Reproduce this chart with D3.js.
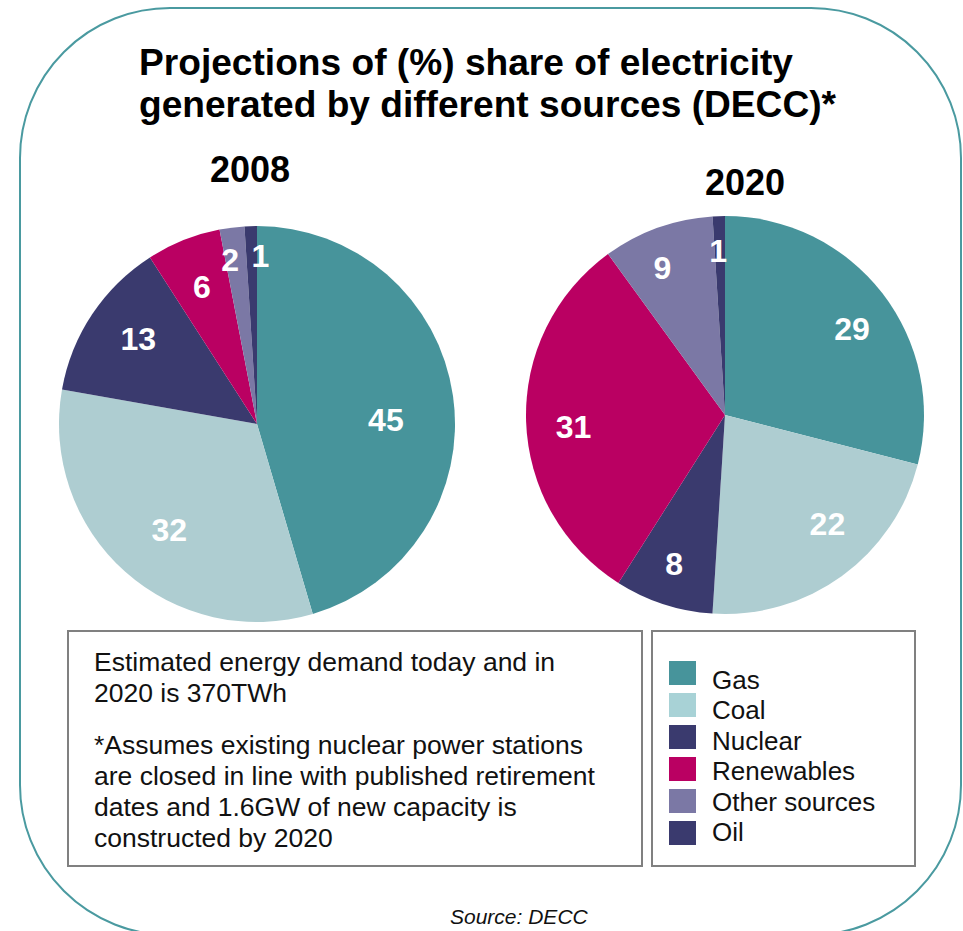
<!DOCTYPE html>
<html>
<head>
<meta charset="utf-8">
<script src="https://cdn.jsdelivr.net/npm/d3@7"></script>
<style>
  html, body { margin: 0; padding: 0; background: #ffffff; }
  svg { display: block; font-family: "Liberation Sans", Arial, Helvetica, sans-serif; }
</style>
</head>
<body>
<svg id="chart" width="963" height="931"></svg>
<script>
// ---------- data ----------
const titleLines = ["Projections of (%) share of electricity", "generated by different sources (DECC)*"];
const sources = ["Gas", "Coal", "Nuclear", "Renewables", "Other sources", "Oil"];
const years = ["2008", "2020"];
const share2008 = [45, 32, 13, 6, 2, 1];
const share2020 = [29, 22, 8, 31, 9, 1];
const noteLines1 = ["Estimated energy demand today and in", "2020 is 370TWh"];
const noteLines2 = ["*Assumes existing nuclear power stations", "are closed in line with published retirement", "dates and 1.6GW of new capacity is", "constructed by 2020"];
const sourceNote = "Source: DECC";

// ---------- styles / layout ----------
const sourceColors = ["#47949b", "#aecdd1", "#3a3a6e", "#ba0062", "#7b78a5", "#3a3a6e"];
const legendColors = ["#47949b", "#a8d2d6", "#3a3a6e", "#ba0062", "#7b78a5", "#3a3a6e"];
const pieLayout = [
  { cx: 257, cy: 424, r: 198, yearX: 250, yearY: 182,
    labelR: [129, 137, 146, 148, 167, 169], labelDA: [6, -2, 2, 0, -2, 3] },
  { cx: 725, cy: 415, r: 199, yearX: 745, yearY: 195,
    labelR: [154, 149, 157, 152, 160, 165], labelDA: [3.4, -7.4, 0.9, -2.7, -3.2, -0.6] }
];

const svg = d3.select("#chart");

// outer rounded frame
svg.append("rect")
  .attr("x", 20).attr("y", 8).attr("width", 941).attr("height", 927)
  .attr("rx", 150).attr("ry", 150)
  .attr("fill", "none").attr("stroke", "#4a9aa0").attr("stroke-width", 2);

// title
svg.append("g").selectAll("text").data(titleLines).join("text")
  .attr("x", 139).attr("y", (d, i) => 75 + i * 42)
  .attr("font-size", 37).attr("font-weight", "bold").attr("fill", "#000")
  .attr("textLength", (d, i) => i === 0 ? 654 : 697)
  .attr("lengthAdjust", "spacingAndGlyphs")
  .text(d => d);

// pies
const pie = d3.pie().sort(null).value(d => d);
const shares = [share2008, share2020];
shares.forEach((vals, k) => {
  const L = pieLayout[k];
  const arc = d3.arc().innerRadius(0).outerRadius(L.r);
  const g = svg.append("g").attr("transform", `translate(${L.cx},${L.cy})`);
  const arcs = pie(vals);
  g.selectAll("path").data(arcs).join("path")
    .attr("d", arc)
    .attr("fill", (d, i) => sourceColors[i]);
  g.selectAll("text").data(arcs).join("text")
    .attr("x", (d, i) => {
      const a = (d.startAngle + d.endAngle) / 2 + L.labelDA[i] * Math.PI / 180;
      return Math.sin(a) * L.labelR[i];
    })
    .attr("y", (d, i) => {
      const a = (d.startAngle + d.endAngle) / 2 + L.labelDA[i] * Math.PI / 180;
      return -Math.cos(a) * L.labelR[i];
    })
    .attr("dy", "0.36em")
    .attr("text-anchor", "middle")
    .attr("font-size", 32).attr("font-weight", "bold").attr("fill", "#ffffff")
    .text(d => d.data);
  svg.append("text")
    .attr("x", L.yearX).attr("y", L.yearY)
    .attr("text-anchor", "middle")
    .attr("font-size", 36).attr("font-weight", "bold").attr("fill", "#000")
    .text(years[k]);
});

// note box
svg.append("rect").attr("x", 68).attr("y", 631).attr("width", 574).attr("height", 235)
  .attr("fill", "#fff").attr("stroke", "#808080").attr("stroke-width", 2);
const noteG = svg.append("g").attr("font-size", 26.5).attr("fill", "#111");
noteG.selectAll("text.n1").data(noteLines1).join("text").attr("class", "n1")
  .attr("x", 94).attr("y", (d, i) => 671 + i * 31).text(d => d);
noteG.selectAll("text.n2").data(noteLines2).join("text").attr("class", "n2")
  .attr("x", 94).attr("y", (d, i) => 754 + i * 31).text(d => d);

// legend box
svg.append("rect").attr("x", 652).attr("y", 631).attr("width", 263).attr("height", 235)
  .attr("fill", "#fff").attr("stroke", "#808080").attr("stroke-width", 2);
const lg = svg.append("g");
lg.selectAll("rect").data(sources).join("rect")
  .attr("x", 669).attr("y", (d, i) => 661 + i * 32)
  .attr("width", 27).attr("height", 24)
  .attr("fill", (d, i) => legendColors[i]);
lg.selectAll("text").data(sources).join("text")
  .attr("x", 712).attr("y", (d, i) => 689 + i * 30.4)
  .attr("font-size", 26).attr("fill", "#111")
  .text(d => d);

// source
svg.append("text").attr("x", 450).attr("y", 924)
  .attr("font-size", 21).attr("font-style", "italic").attr("fill", "#111")
  .text(sourceNote);
</script>
</body>
</html>
